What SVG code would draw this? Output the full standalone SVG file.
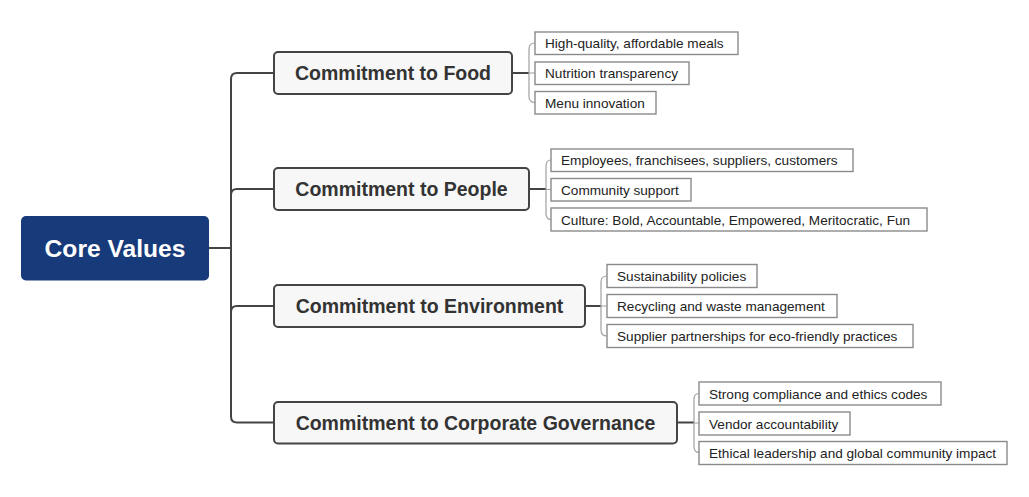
<svg xmlns="http://www.w3.org/2000/svg" width="1029" height="497" viewBox="0 0 1029 497">
<style>
.root{fill:#173a7a;}
.rootT{font-family:"Liberation Sans",Arial,sans-serif;font-weight:bold;font-size:24.6px;fill:#fff;text-anchor:middle;}
.main{fill:#f7f7f7;stroke:#444;stroke-width:2;}
.mainT{font-family:"Liberation Sans",Arial,sans-serif;font-weight:bold;font-size:19.5px;fill:#333;text-anchor:middle;}
.leaf{fill:#fff;stroke:#8a8a8a;stroke-width:1.4;}
.leafT{font-family:"Liberation Sans",Arial,sans-serif;font-size:13.6px;fill:#222;}
.conn{fill:none;stroke:#444;stroke-width:2;}
.br{fill:none;stroke:#a0a0a0;stroke-width:1.2;}
</style>
<rect width="1029" height="497" fill="#fff"/>
<g id="connectors">
<path class="conn" d="M209,248 L231,248"/>
<path class="conn" d="M273,73 L237,73 Q231,73 231,79 L231,416.5 Q231,422.5 237,422.5 L273,422.5"/>
<path class="conn" d="M231,195 Q231,189 237,189 L273,189"/>
<path class="conn" d="M231,312 Q231,306 237,306 L273,306"/>
<path class="conn" d="M512,73 L529,73"/>
<path class="conn" d="M529,189 L546,189"/>
<path class="conn" d="M585,306 L601,306"/>
<path class="conn" d="M677,422.5 L694,422.5"/>
<path class="br" d="M535,43 Q529,43 529,49 L529,96.5 Q529,102.5 535,102.5 M529,73 L535,73"/>
<path class="br" d="M551,160 Q546,160 546,166 L546,213.5 Q546,219.5 551,219.5 M546,189.5 L551,189.5"/>
<path class="br" d="M607,276 Q601,276 601,282 L601,330 Q601,336 607,336 M601,306 L607,306"/>
<path class="br" d="M699,393.5 Q694,393.5 694,399.5 L694,446.5 Q694,452.5 699,452.5 M694,423 L699,423"/>
</g>
<g id="core-values">
<rect class="root" x="21" y="216" width="188" height="64.5" rx="5"/>
<text class="rootT" x="115" y="256.5">Core Values</text>
</g>
<g id="food">
<rect class="main" x="274" y="52" width="238" height="42" rx="4"/>
<text class="mainT" x="393" y="80">Commitment to Food</text>
</g>
<g id="people">
<rect class="main" x="274" y="168" width="255" height="42" rx="4"/>
<text class="mainT" x="401.5" y="196">Commitment to People</text>
</g>
<g id="environment">
<rect class="main" x="274" y="285" width="311" height="42" rx="4"/>
<text class="mainT" x="429.5" y="313">Commitment to Environment</text>
</g>
<g id="governance">
<rect class="main" x="274" y="402" width="403" height="41.5" rx="4"/>
<text class="mainT" x="475.5" y="429.5">Commitment to Corporate Governance</text>
</g>
<g id="food-1"><rect class="leaf" x="535" y="32" width="203" height="22.5"/><text class="leafT" x="545" y="48">High-quality, affordable meals</text></g>
<g id="food-2"><rect class="leaf" x="535" y="62" width="154" height="22.5"/><text class="leafT" x="545" y="78">Nutrition transparency</text></g>
<g id="food-3"><rect class="leaf" x="535" y="91.5" width="121" height="22.5"/><text class="leafT" x="545" y="107.5">Menu innovation</text></g>
<g id="people-1"><rect class="leaf" x="551" y="149" width="302" height="22.5"/><text class="leafT" x="561" y="165">Employees, franchisees, suppliers, customers</text></g>
<g id="people-2"><rect class="leaf" x="551" y="178.5" width="140" height="22.5"/><text class="leafT" x="561" y="194.5">Community support</text></g>
<g id="people-3"><rect class="leaf" x="551" y="208" width="376" height="23"/><text class="leafT" x="561" y="224.5">Culture: Bold, Accountable, Empowered, Meritocratic, Fun</text></g>
<g id="env-1"><rect class="leaf" x="607" y="264.5" width="150" height="23"/><text class="leafT" x="617" y="281">Sustainability policies</text></g>
<g id="env-2"><rect class="leaf" x="607" y="294.5" width="230" height="23"/><text class="leafT" x="617" y="311">Recycling and waste management</text></g>
<g id="env-3"><rect class="leaf" x="607" y="324.5" width="306" height="23"/><text class="leafT" x="617" y="341">Supplier partnerships for eco-friendly practices</text></g>
<g id="gov-1"><rect class="leaf" x="699" y="382" width="242" height="23"/><text class="leafT" x="709" y="398.5">Strong compliance and ethics codes</text></g>
<g id="gov-2"><rect class="leaf" x="699" y="412" width="151" height="23"/><text class="leafT" x="709" y="428.5">Vendor accountability</text></g>
<g id="gov-3"><rect class="leaf" x="699" y="441.5" width="308" height="23"/><text class="leafT" x="709" y="458">Ethical leadership and global community impact</text></g>
</svg>
